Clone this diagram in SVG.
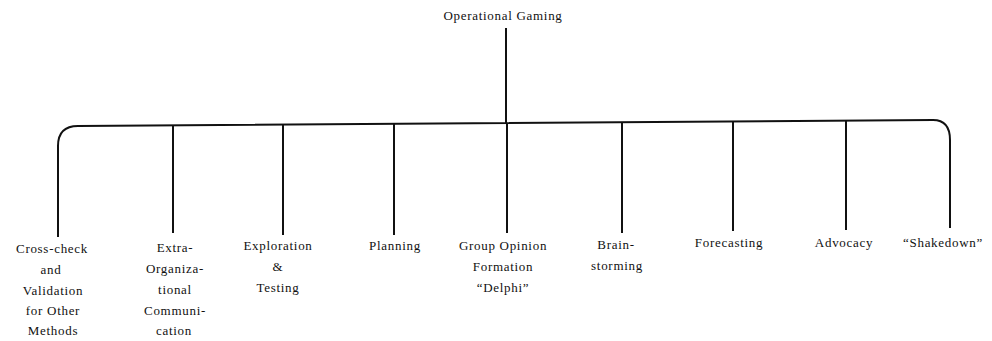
<svg xmlns="http://www.w3.org/2000/svg" width="992" height="341" viewBox="0 0 992 341">
  <style>
    .lbl { font-family: "Liberation Serif", "DejaVu Serif", serif; font-size: 13px; letter-spacing: 0.7px; fill: #111; text-anchor: middle; }
    .wire { fill: none; stroke: #111; stroke-width: 2; stroke-linecap: butt; }
  </style>
  <rect width="992" height="341" fill="#fff"/>

  <g id="connectors">
    <!-- trunk from root to the bus -->
    <path class="wire" d="M506,28 L506,123"/>
    <!-- bus with rounded end legs -->
    <path class="wire" d="M58,237 L58,146 Q58,126 78,126 L933,120 Q950,120 950,140 L950,228"/>
    <!-- inner branches -->
    <path class="wire" d="M173,125.3 L173,233"/>
    <path class="wire" d="M283,124.6 L283,235"/>
    <path class="wire" d="M394,123.8 L394,235"/>
    <path class="wire" d="M507,123 L507,233"/>
    <path class="wire" d="M622,122.2 L622,233"/>
    <path class="wire" d="M733,121.4 L733,231"/>
    <path class="wire" d="M846,120.6 L846,230"/>
  </g>

  <g id="root">
    <text class="lbl" x="503" y="20">Operational Gaming</text>
  </g>

  <g id="crosscheck">
    <text class="lbl" x="52" y="253">Cross-check</text>
    <text class="lbl" x="51" y="274">and</text>
    <text class="lbl" x="53" y="295">Validation</text>
    <text class="lbl" x="53" y="315">for Other</text>
    <text class="lbl" x="53" y="335">Methods</text>
  </g>

  <g id="extraorg">
    <text class="lbl" x="175" y="252">Extra-</text>
    <text class="lbl" x="175" y="273">Organiza-</text>
    <text class="lbl" x="175" y="294">tional</text>
    <text class="lbl" x="175" y="315">Communi-</text>
    <text class="lbl" x="174" y="335">cation</text>
  </g>

  <g id="exploration">
    <text class="lbl" x="278" y="250">Exploration</text>
    <text class="lbl" x="278" y="271">&amp;</text>
    <text class="lbl" x="278" y="292">Testing</text>
  </g>

  <g id="planning">
    <text class="lbl" x="395" y="250">Planning</text>
  </g>

  <g id="delphi">
    <text class="lbl" x="503" y="250">Group Opinion</text>
    <text class="lbl" x="503" y="271">Formation</text>
    <text class="lbl" x="503" y="292">“Delphi”</text>
  </g>

  <g id="brainstorming">
    <text class="lbl" x="616" y="249">Brain-</text>
    <text class="lbl" x="617" y="270">storming</text>
  </g>

  <g id="forecasting">
    <text class="lbl" x="729" y="247">Forecasting</text>
  </g>

  <g id="advocacy">
    <text class="lbl" x="844" y="247">Advocacy</text>
  </g>

  <g id="shakedown">
    <text class="lbl" x="943" y="247">“Shakedown”</text>
  </g>
</svg>
